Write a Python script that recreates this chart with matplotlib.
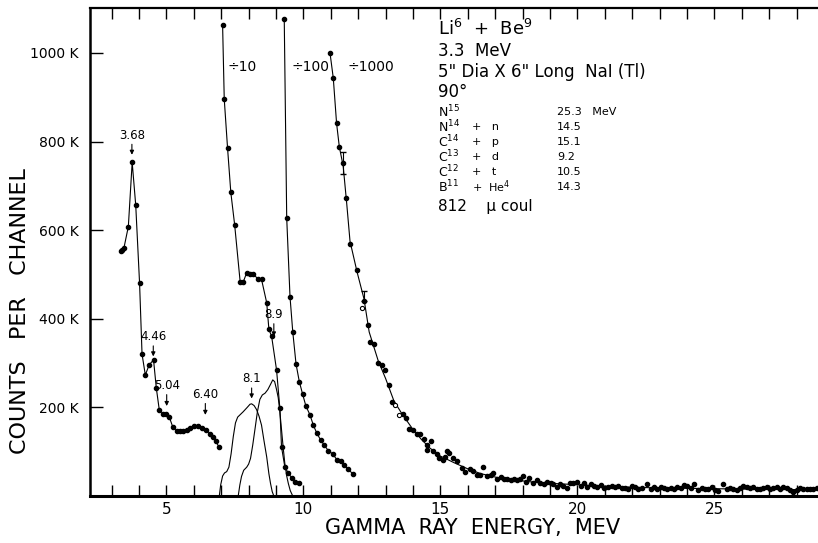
import matplotlib
matplotlib.use("Agg")
import matplotlib.pyplot as plt

# main spectrum (counts in K)
main_e = [3.33, 3.38, 3.45, 3.61, 3.75, 3.88, 4.02, 4.11, 4.23, 4.37, 4.53, 4.63,
          4.74, 4.86, 4.98, 5.10, 5.23, 5.37, 5.49, 5.61, 5.74, 5.86, 6.00, 6.15,
          6.30, 6.44, 6.59, 6.71, 6.81, 6.92]
main_c = [553, 556, 560, 608, 753, 656, 480, 320, 273, 296, 307, 244,
          194, 184, 184, 179, 156, 147, 147, 147, 150, 153, 157, 157,
          153, 149, 141, 134, 123, 110]

# divided by 10
d10_e = [7.05, 7.11, 7.23, 7.35, 7.49, 7.69, 7.81, 7.93, 8.05, 8.17, 8.35, 8.47,
         8.66, 8.74, 8.84, 9.02, 9.14, 9.20, 9.32, 9.45, 9.59, 9.71, 9.83]
d10_c = [1063, 896, 786, 685, 612, 484, 484, 504, 501, 501, 489, 489,
         436, 376, 360, 284, 198, 111, 66, 51, 40, 32, 29]

# divided by 100
d100_e = [9.30, 9.39, 9.51, 9.61, 9.73, 9.85, 9.97, 10.09, 10.24, 10.36, 10.48,
          10.63, 10.76, 10.91, 11.07, 11.23, 11.36, 11.48, 11.64, 11.80]
d100_c = [1076, 627, 450, 371, 298, 258, 230, 203, 183, 160, 143,
          126, 115, 102, 95, 81, 78, 70, 60, 50]

# divided by 1000, measured points
d1000_e = [10.97, 11.09, 11.21, 11.31, 11.45, 11.55, 11.70, 11.95, 12.20, 12.35,
           12.44, 12.58, 12.73, 12.85, 12.98, 13.11, 13.22, 13.62, 13.74, 13.86,
           13.99, 14.15, 14.25, 14.40, 14.50, 14.50,
           14.64, 14.74, 14.86, 14.96, 15.08, 15.16, 15.23, 15.33, 15.47, 15.62,
           15.78, 15.90, 16.08, 16.20, 16.32, 16.44, 16.57, 16.69, 16.83, 16.93,
           17.05, 17.20, 17.32, 17.44, 17.56, 17.69, 17.81, 17.90, 18.00, 18.12,
           18.25, 18.37, 18.51, 18.63, 18.78, 18.90, 19.02, 19.12, 19.24, 19.36,
           19.49, 19.61, 19.73, 19.85, 20.00, 20.12, 20.24, 20.36, 20.48, 20.61,
           20.73, 20.85, 20.97, 21.13, 21.25, 21.37, 21.49, 21.62, 21.74, 21.86,
           21.98, 22.10, 22.22, 22.35, 22.55, 22.67, 22.80, 22.92, 23.04, 23.16,
           23.28, 23.40, 23.52, 23.65, 23.77, 23.89, 24.01, 24.13, 24.26, 24.41,
           24.53, 24.66, 24.78, 24.90, 25.02, 25.14, 25.33, 25.45, 25.57, 25.69,
           25.81, 25.93, 26.06, 26.18, 26.30, 26.42, 26.54, 26.66, 26.79, 26.91,
           27.03, 27.15, 27.27, 27.39, 27.52, 27.64, 27.76, 27.88, 28.00, 28.12,
           28.25, 28.37, 28.49, 28.61, 28.73]
d1000_c = [1000, 943, 841, 788, 751, 672, 568, 509, 440, 385,
           348, 342, 301, 296, 285, 251, 211, 185, 175, 151,
           150, 141, 139, 128, 115, 104,
           125, 102, 95, 85, 81, 87, 102, 98, 85, 78,
           63, 53, 60, 57, 47, 47, 65, 44, 47, 51,
           38, 42, 38, 38, 36, 38, 36, 38, 44, 32,
           40, 29, 35, 29, 27, 32, 30, 27, 21, 27,
           23, 17, 29, 30, 32, 23, 30, 20, 27, 23,
           21, 25, 17, 20, 23, 20, 23, 17, 17, 15,
           23, 20, 15, 17, 27, 15, 20, 15, 20, 17,
           15, 17, 15, 20, 17, 25, 23, 17, 27, 14,
           17, 15, 15, 20, 14, 12, 27, 15, 17, 15,
           14, 17, 23, 20, 17, 20, 15, 15, 17, 20,
           15, 17, 20, 15, 20, 17, 14, 8, 14, 17,
           15, 15, 15, 15, 17]

# open circles on the divided by 1000 curve
open_e = [12.12, 13.34, 13.50]
open_c = [424, 205, 183]

# hand drawn curve through the divided by 1000 points
fit_e = [10.97, 11.09, 11.21, 11.31, 11.45, 11.58, 11.70, 11.96, 12.21, 12.40, 12.73,
         13.0, 13.3, 13.6, 14.0, 14.3, 14.62, 15.0, 15.5, 16.08, 16.5, 17.05, 17.6,
         18.27, 19.2, 20.1, 21.0, 21.92, 23.0, 24.35, 25.5, 26.8, 28.8]
fit_c = [1000, 943, 841, 788, 745, 660, 575, 505, 445, 370, 305,
         265, 215, 185, 150, 128, 108, 90, 75, 59, 50, 42, 37,
         32, 28, 25, 22, 20, 18, 17, 16, 15, 14]

# response curves (no points)
resp81_e = [6.93, 6.98, 7.05, 7.12, 7.20, 7.28, 7.36, 7.44, 7.52, 7.60, 7.70, 7.80,
            7.95, 8.05, 8.11, 8.20, 8.29, 8.38, 8.47, 8.56, 8.66, 8.74, 8.80, 8.86, 8.92]
resp81_c = [0, 25, 45, 52, 55, 65, 95, 134, 165, 178, 184, 190,
            200, 207, 208, 204, 195, 180, 160, 125, 88, 50, 28, 10, 0]
resp89_e = [7.62, 7.68, 7.74, 7.82, 7.93, 8.00, 8.07, 8.15, 8.23, 8.32, 8.41, 8.50,
            8.60, 8.70, 8.80, 8.88, 8.95, 9.02, 9.08, 9.14, 9.20, 9.26, 9.32, 9.39,
            9.45, 9.52, 9.61]
resp89_c = [0, 25, 44, 58, 65, 72, 85, 115, 150, 190, 218, 228,
            232, 240, 252, 262, 258, 240, 222, 190, 150, 110, 74, 45,
            28, 12, 0]

# peak labels: text, energy, arrow tip (K), label height (K)
peak_labels = ["3.68", "4.46", "5.04", "6.40", "8.1", "8.9"]
peak_e = [3.74, 4.52, 5.01, 6.42, 8.11, 8.92]
peak_tip = [770, 315, 203, 183, 220, 360]
peak_txt = [800, 345, 235, 215, 250, 395]

fig = plt.figure(figsize=(8.18, 5.43), dpi=100)
ax = fig.add_axes([0.110, 0.0866, 0.89, 0.8984])

lw = 0.8
ms = 3.0
ax.plot(main_e, main_c, '-o', color='black', lw=lw, ms=ms)
ax.plot(d10_e, d10_c, '-o', color='black', lw=lw, ms=ms)
ax.plot(d100_e, d100_c, '-o', color='black', lw=lw, ms=ms)
ax.plot(fit_e, fit_c, '-', color='black', lw=lw)
ax.plot(d1000_e, d1000_c, 'o', color='black', ms=ms)
ax.plot(open_e, open_c, 'o', color='black', mfc='white', ms=ms, mew=0.8)
ax.plot(resp81_e, resp81_c, '-', color='black', lw=lw)
ax.plot(resp89_e, resp89_c, '-', color='black', lw=lw)

ax.errorbar([11.45], [751], yerr=[[25], [25]], fmt='none', ecolor='black', lw=0.8, capsize=2)
ax.errorbar([12.21], [440], yerr=[[0], [22]], fmt='none', ecolor='black', lw=0.8, capsize=2)

for lab, e, tip, ty in zip(peak_labels, peak_e, peak_tip, peak_txt):
    ax.annotate(lab, xy=(e, tip), xytext=(e, ty), ha='center', va='bottom', fontsize=8.5,
                arrowprops=dict(arrowstyle='-|>', color='black', lw=0.8,
                                mutation_scale=6, shrinkA=0, shrinkB=0))

ax.text(7.76, 968, "÷10", fontsize=10, ha='center', va='center')
ax.text(10.24, 968, "÷100", fontsize=10, ha='center', va='center')
ax.text(12.46, 968, "÷1000", fontsize=10, ha='center', va='center')

# info block
R = r'$\mathregular{^{%s}}$'
ax.text(14.9, 1055, "Li" + R % "6" + "  +  Be" + R % "9", fontsize=13, va='center')
ax.text(14.9, 1005, "3.3  MeV", fontsize=12, va='center')
ax.text(14.9, 958, '5" Dia X 6" Long  NaI (Tl)', fontsize=12, va='center')
ax.text(14.9, 912, "90°", fontsize=12, va='center')
rows = [("N" + R % "15", "", "25.3   MeV"),
        ("N" + R % "14", "+   n", "14.5"),
        ("C" + R % "14", "+   p", "15.1"),
        ("C" + R % "13", "+   d", "9.2"),
        ("C" + R % "12", "+   t", "10.5"),
        ("B" + R % "11", "+  He" + R % "4", "14.3")]
for i, (a, b, c) in enumerate(rows):
    y = 867 - i * 34
    ax.text(14.9, y, a, fontsize=9, va='center')
    ax.text(16.15, y, b, fontsize=8, va='center')
    ax.text(19.25, y, c, fontsize=8, va='center')
ax.text(14.9, 654, "812    μ coul", fontsize=11, va='center')

ax.set_xlim(2.21, 28.78)
ax.set_ylim(0, 1101)
ax.set_xticks([5, 10, 15, 20, 25])
ax.set_xticks(range(3, 29), minor=True)
ax.set_yticks([200, 400, 600, 800, 1000])
ax.set_yticklabels(["200 K", "400 K", "600 K", "800 K", "1000 K"], fontsize=10)
ax.tick_params(axis='x', which='both', direction='in', top=True, length=8, width=1, labelsize=11, pad=4)
ax.tick_params(axis='y', direction='in', length=9, width=1, pad=8)
ax.spines['right'].set_visible(False)
ax.spines['bottom'].set_linewidth(2.2)
ax.spines['left'].set_linewidth(1.8)
ax.spines['top'].set_linewidth(1.6)

ax.set_xlabel("GAMMA  RAY  ENERGY,  MEV", fontsize=15)
ax.xaxis.set_label_coords(0.526, -0.046)
ax.set_ylabel("COUNTS   PER   CHANNEL", fontsize=16)
ax.yaxis.set_label_coords(-0.082, 0.38)

fig.savefig("out.png", dpi=100)
